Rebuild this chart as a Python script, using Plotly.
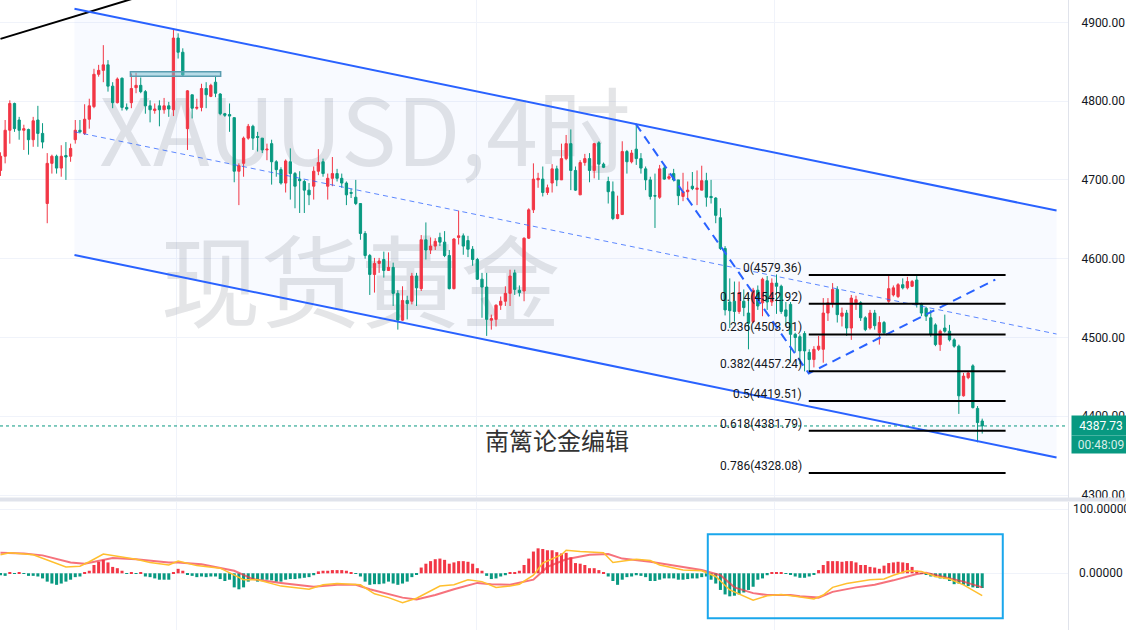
import plotly.graph_objects as go

# ---------------- data ----------------
open_ = [4712,4730,4763,4797,4776,4763,4764,4751,4776,4759,
         4670,4721,4730,4715,4731,4730,4751,4763,4759,4777,
         4793,4834,4839,4846,4819,4798,4829,4792,4798,4817,
         4820,4812,4794,4788,4794,4789,4794,4789,4880,4862,
         4765,4808,4791,4792,4816,4806,4824,4809,4784,4783,
         4779,4711,4721,4753,4768,4755,4753,4738,4746,4723,
         4713,4696,4723,4708,4701,4698,4687,4692,4711,4723,
         4692,4702,4708,4702,4696,4684,4678,4670,4632,4604,
         4580,4594,4599,4585,4589,4556,4522,4547,4546,4578,
         4562,4624,4611,4616,4627,4621,4604,4562,4627,4629,
         4623,4612,4599,4574,4564,4522,4523,4541,4546,4556,
         4582,4560,4559,4626,4662,4700,4701,4684,4696,4714,
         4700,4727,4746,4712,4681,4722,4727,4712,4747,4720,
         4698,4685,4651,4656,4736,4723,4739,4727,4714,4700,
         4680,4678,4715,4702,4708,4700,4679,4685,4692,4688,
         4687,4699,4679,4677,4652,4613,4545,4546,4533,4546,
         4531,4520,4560,4544,4572,4545,4569,4565,4535,4542,
         4504,4501,4505,4481,4472,4485,4485,4531,4544,4561,
         4527,4531,4512,4544,4544,4525,4512,4531,4506,4519,
         4546,4554,4552,4567,4563,4565,4573,4542,4537,4525,
         4516,4491,4512,4508,4497,4489,4426,4449,4464,4410,
         4394]
high = [4735,4776,4801,4798,4780,4770,4765,4780,4794,4772,
        4734,4732,4732,4744,4748,4746,4776,4776,4796,4803,
        4841,4846,4871,4852,4824,4830,4830,4797,4835,4836,
        4830,4814,4801,4797,4801,4804,4799,4891,4886,4867,
        4814,4808,4803,4822,4824,4822,4832,4810,4785,4797,
        4779,4721,4755,4771,4770,4761,4753,4746,4751,4725,
        4716,4726,4740,4710,4711,4700,4696,4717,4739,4727,
        4708,4729,4714,4708,4698,4689,4700,4670,4635,4606,
        4601,4601,4609,4608,4595,4560,4565,4553,4582,4582,
        4630,4646,4627,4626,4633,4635,4611,4626,4661,4632,
        4629,4616,4601,4582,4582,4529,4542,4552,4565,4586,
        4586,4566,4627,4664,4721,4709,4717,4694,4720,4718,
        4746,4757,4764,4717,4725,4733,4734,4747,4749,4722,
        4704,4698,4680,4749,4738,4738,4771,4734,4717,4704,
        4708,4719,4718,4708,4714,4700,4709,4698,4710,4712,
        4718,4709,4700,4678,4664,4616,4575,4571,4571,4561,
        4556,4563,4566,4576,4578,4575,4580,4567,4545,4545,
        4506,4504,4508,4485,4489,4502,4550,4550,4569,4565,
        4538,4535,4554,4553,4546,4527,4535,4535,4527,4521,
        4578,4566,4569,4575,4577,4573,4578,4544,4539,4535,
        4518,4510,4529,4516,4499,4491,4455,4456,4466,4413,
        4397]
low = [4705,4721,4746,4761,4751,4738,4732,4742,4742,4740,
       4645,4708,4708,4704,4700,4723,4746,4759,4757,4765,
       4791,4831,4824,4812,4791,4797,4788,4788,4791,4810,
       4810,4784,4773,4784,4768,4784,4780,4781,4854,4831,
       4738,4778,4789,4787,4791,4805,4805,4782,4780,4761,
       4697,4668,4704,4751,4738,4736,4734,4725,4694,4704,
       4694,4684,4675,4664,4658,4658,4668,4675,4706,4704,
       4675,4692,4698,4690,4668,4677,4668,4624,4600,4554,
       4557,4582,4576,4585,4540,4510,4521,4523,4542,4540,
       4559,4599,4606,4611,4616,4602,4561,4561,4618,4605,
       4602,4591,4573,4525,4502,4510,4514,4535,4540,4540,
       4554,4552,4546,4625,4658,4690,4679,4681,4684,4692,
       4700,4725,4687,4686,4681,4718,4697,4702,4700,4715,
       4670,4649,4650,4656,4708,4721,4719,4708,4687,4675,
       4639,4676,4700,4700,4698,4668,4673,4675,4687,4668,
       4687,4666,4670,4645,4611,4528,4512,4520,4530,4527,
       4485,4518,4535,4527,4535,4540,4530,4530,4515,4468,
       4481,4466,4457,4457,4462,4483,4468,4521,4538,4519,
       4514,4502,4497,4535,4521,4508,4510,4510,4491,4504,
       4544,4552,4550,4561,4561,4564,4538,4527,4521,4501,
       4489,4483,4506,4495,4487,4403,4425,4447,4410,4367,
       4378]
close = [4730,4763,4797,4765,4763,4765,4751,4775,4759,4748,
         4721,4730,4715,4730,4729,4740,4763,4761,4777,4794,
         4834,4839,4846,4819,4798,4828,4792,4790,4816,4820,
         4812,4794,4789,4790,4789,4794,4790,4880,4862,4833,
         4813,4791,4792,4816,4808,4820,4810,4784,4782,4781,
         4711,4718,4753,4768,4753,4754,4738,4739,4723,4713,
         4696,4724,4708,4692,4699,4687,4681,4711,4722,4708,
         4702,4708,4702,4696,4681,4683,4670,4632,4604,4580,
         4594,4597,4585,4589,4556,4522,4547,4543,4578,4563,
         4624,4611,4616,4622,4621,4604,4562,4625,4629,4616,
         4612,4599,4574,4564,4523,4524,4541,4546,4556,4578,
         4561,4557,4626,4662,4701,4702,4684,4690,4714,4700,
         4727,4746,4712,4687,4722,4727,4712,4746,4720,4716,
         4685,4651,4656,4736,4723,4734,4727,4715,4700,4679,
         4679.5,4714,4701,4704,4700,4680,4685,4687,4689,4689.5,
         4699,4678,4677.5,4655,4613,4535,4534,4533,4557,4538,
         4518,4560,4540,4574,4545,4569,4565,4533,4527,4504,
         4500,4483,4483,4472,4485,4489,4531,4544,4561,4529,
         4531,4512,4550,4548,4525,4510,4531,4515,4519,4506,
         4562,4563,4567,4563,4571,4571,4542,4531,4527,4504,
         4491,4508,4508,4497,4489,4426,4451,4455,4411,4392,
         4387.73]
idx = list(range(len(close)))

macd_hist = [-3,-4,1,-1,1,-1,-4,-4,-5,-8,
             -13,-16,-18,-16,-13,-10,-6,-5,1,4,
             13,18,21,17,10,8,4,-1,1,-1,
             1,-5,-6,-8,-10,-10,-10,1,7,4,
             -2,-4,-6,-5,-6,-5,-5,-9,-12,-10,
             -22,-25,-22,-13,-10,-13,-10,-10,-11,-13,
             -13,-10,-9,-9,-8,-7,-6,-3,3,4,
             4,5,5,5,4,1,-1,-5,-13,-18,
             -17,-17,-16,-13,-16,-18,-16,-13,-6,-2,
             9,15,19,22,23,21,15,17,19,19,
             18,15,8,4,-4,-9,-8,-5,-3,1,
             2,4,13,23,34,39,38,36,36,33,
             31,32,25,16,15,13,8,8,5,1,
             -5,-12,-18,-10,-6,-5,-3,-4,-6,-12,
             -12,-10,-8,-8,-8,-10,-10,-9,-8,-8,
             -6,-5,-10,-16,-26,-33,-36,-35,-33,-30,
             -26,-21,-10,-8,-3,1,1,1,-1,-2,
             -5,-7,-7,-5,-2,5,13,19,19,19,
             18,19,19,17,13,13,10,9,7,12,
             16,17,18,17,16,10,4,-1,-2,-5,
             -6,-8,-9,-12,-17,-16,-18,-20,-22,-23,
             -23]

dif_x = [0,2,7,10,14,17,19,22,25,29,32,36,38,42,47,50,52,55,60,66,
         69,72,77,80,83,86,89,94,97,100,103,106,109,111,114,116,120,121,124,129,
         131,136,139,141,146,150,153,156,159,161,164,167,170,174,176,178,181,186,189,191,
         194,197,200,203,206,209,210]
dif_y = [29,32,29,21,10,11,18,30,27,22,17,13,19,12,8,-3,-10,-10,-20,-25,
         -18,-16,-18,-32,-38,-46,-39,-20,-18,-10,-13,-22,-20,-17,-3,16,29,36,34,32,
         17,22,20,13,5,4,-5,-26,-36,-42,-35,-33,-36,-40,-34,-22,-16,-10,-9,-3,
         4,3,-5,-9,-18,-30,-35]
dea_x = [0,5,9,15,18,24,29,36,38,43,50,54,60,67,72,76,79,86,89,93,
         97,102,105,109,114,117,121,126,130,133,139,144,150,154,157,161,164,169,171,175,
         178,183,187,191,196,198,201,206,210]
dea_y = [32,31,28,17,15,24,22,17,17,14,4,-9,-15,-21,-18,-18,-25,-38,-41,-34,
         -25,-15,-17,-18,-10,10,22,29,30,23,18,12,5,-3,-22,-31,-34,-34,-36,-38,
         -29,-22,-18,-11,-1,1,-4,-13,-22]

fib_ratios = ["0", "0.114", "0.236", "0.382", "0.5", "0.618", "0.786"]
fib_prices = [4579.36, 4542.92, 4503.91, 4457.24, 4419.51, 4381.79, 4328.08]
fib_x = [172.9, 215.0]

channel_x = [15.83, 225.9]
channel_upper = [4917.3, 4661.1]
channel_lower = [4604.7, 4347.7]

zigzag_x = [135.9, 172.9, 212.8]
zigzag_y = [4770.9, 4454.4, 4573.4]

trend_x = [0, 35]
trend_y = [4879, 4942]

zone_x = [27.8, 47.1]
zone_y = [4831.6, 4837.1]

macd_box_x = [151.3, 214.4]
macd_box_y = [-70.3, 60.9]

last_price = 4387.73
countdown = "00:48:09"
price_ticks = [4300, 4400, 4500, 4600, 4700, 4800, 4900]
macd_ticks = [0, 100]
time_grid = [37.65, 101.75, 165.6]

watermark_1 = "XAUUSD,4时"
watermark_2 = "现货黄金"
author_text = "南篱论金编辑"

# ---------------- styling ----------------
UP = "#F23645"
DN = "#089981"
BLUE = "#2962FF"
GRID = "#F0F3FA"
W, H = 1126, 630
PLOT_R = 1068          # right edge of the panes (px)
main_top, main_bot = 0, 498
macd_top = 502
x_range = [-0.1, 228.35]
y_range = [4296.3, 4928.3]
y2_range = [-88.6, 111.4]

fig = go.Figure()

fig.add_trace(go.Candlestick(
    x=idx, open=open_, high=high, low=low, close=close,
    increasing=dict(line=dict(color=UP, width=1), fillcolor=UP),
    decreasing=dict(line=dict(color=DN, width=1), fillcolor=DN),
    whiskerwidth=0, hoverinfo="skip", showlegend=False,
    xaxis="x", yaxis="y"))

# black trend line (top left)
fig.add_trace(go.Scatter(x=trend_x, y=trend_y, mode="lines",
                         line=dict(color="#000000", width=2),
                         hoverinfo="skip", showlegend=False))
# channel lines
fig.add_trace(go.Scatter(x=channel_x, y=channel_upper, mode="lines",
                         line=dict(color=BLUE, width=2), hoverinfo="skip", showlegend=False))
fig.add_trace(go.Scatter(x=channel_x, y=channel_lower, mode="lines",
                         line=dict(color=BLUE, width=2), hoverinfo="skip", showlegend=False))
mid = [(a + b) / 2 for a, b in zip(channel_upper, channel_lower)]
fig.add_trace(go.Scatter(x=channel_x, y=mid, mode="lines",
                         line=dict(color="rgba(41,98,255,0.75)", width=1, dash="5px,4px"),
                         hoverinfo="skip", showlegend=False))
# zigzag dashed
fig.add_trace(go.Scatter(x=zigzag_x, y=zigzag_y, mode="lines",
                         line=dict(color=BLUE, width=2, dash="9px,6px"),
                         hoverinfo="skip", showlegend=False))
# fib levels
for p in fib_prices:
    fig.add_trace(go.Scatter(x=fib_x, y=[p, p], mode="lines",
                             line=dict(color="#000000", width=2),
                             hoverinfo="skip", showlegend=False))
# last price dotted
fig.add_trace(go.Scatter(x=[x_range[0], x_range[1]], y=[last_price, last_price], mode="lines",
                         line=dict(color=DN, width=1, dash="dot"),
                         hoverinfo="skip", showlegend=False))

# MACD pane
fig.add_trace(go.Bar(x=idx, y=macd_hist, width=0.65,
                     marker=dict(color=[UP if v >= 0 else DN for v in macd_hist], line=dict(width=0)),
                     hoverinfo="skip", showlegend=False, xaxis="x2", yaxis="y2"))
fig.add_trace(go.Scatter(x=dea_x, y=dea_y, mode="lines",
                         line=dict(color="rgba(242,54,69,0.7)", width=2),
                         hoverinfo="skip", showlegend=False, xaxis="x2", yaxis="y2"))
fig.add_trace(go.Scatter(x=dif_x, y=dif_y, mode="lines",
                         line=dict(color="#FFBF2E", width=1.5),
                         hoverinfo="skip", showlegend=False, xaxis="x2", yaxis="y2"))

shapes = []
# channel background fill
path = "M {},{} L {},{} L {},{} L {},{} Z".format(
    channel_x[0], channel_upper[0], channel_x[1], channel_upper[1],
    channel_x[1], channel_lower[1], channel_x[0], channel_lower[0])
shapes.append(dict(type="path", path=path, xref="x", yref="y", layer="between",
                   fillcolor="rgba(41,98,255,0.03)", line=dict(width=0)))
# watermark (drawn below candles)
shapes.append(dict(type="rect", xref="x", yref="y", x0=20, x1=136, y0=4685, y1=4815,
                   layer="between", line=dict(width=0), fillcolor="rgba(0,0,0,0)",
                   label=dict(text=watermark_1, textposition="middle center",
                              font=dict(size=93, color="rgba(121,125,134,0.2)",
                                        family="Noto Sans CJK SC"))))
shapes.append(dict(type="rect", xref="x", yref="y", x0=19, x1=135, y0=4492, y1=4622,
                   layer="between", line=dict(width=0), fillcolor="rgba(0,0,0,0)",
                   label=dict(text=watermark_2, textposition="middle center",
                              font=dict(size=100, color="rgba(121,125,134,0.2)",
                                        family="Noto Sans CJK SC"))))
# teal zone
shapes.append(dict(type="rect", xref="x", yref="y", x0=zone_x[0], x1=zone_x[1],
                   y0=zone_y[0], y1=zone_y[1], layer="above",
                   line=dict(color="#5A9DB0", width=1.5), fillcolor="rgba(120,190,210,0.5)"))
# MACD highlight box
shapes.append(dict(type="rect", xref="x2", yref="y2", x0=macd_box_x[0], x1=macd_box_x[1],
                   y0=macd_box_y[0], y1=macd_box_y[1], layer="above",
                   line=dict(color="#1AA7EC", width=2), fillcolor="rgba(0,0,0,0)"))
# pane separator
shapes.append(dict(type="rect", xref="paper", yref="paper", x0=0, x1=W / PLOT_R,
                   y0=1 - 501.5 / H, y1=1 - 497.5 / H, layer="above",
                   line=dict(width=0), fillcolor="#E0E3EB"))

annotations = []
for r, p in zip(fib_ratios, fib_prices):
    annotations.append(dict(x=fib_x[0], y=p, xref="x", yref="y", text="{}({:.2f})".format(r, p),
                            showarrow=False, xanchor="right", yanchor="middle",
                            xshift=-5, yshift=7,
                            font=dict(family="Roboto", size=12, color="#131722")))
annotations.append(dict(x=119, y=4371, xref="x", yref="y", text=author_text, showarrow=False,
                        xanchor="center", yanchor="middle",
                        font=dict(family="Noto Sans CJK SC", size=24, color="#333333")))
axis_label_x = 1101 / PLOT_R
annotations.append(dict(x=axis_label_x, y=last_price, xref="paper", yref="y",
                        text="{:.2f}".format(last_price), showarrow=False,
                        xanchor="center", yanchor="middle", bgcolor=DN, width=56, height=17,
                        font=dict(family="Roboto", size=12, color="#FFFFFF")))
annotations.append(dict(x=axis_label_x, y=4364.6, xref="paper", yref="y",
                        text=countdown, showarrow=False,
                        xanchor="center", yanchor="middle", bgcolor=DN, width=56, height=15,
                        font=dict(family="Roboto", size=12, color="rgba(255,255,255,0.85)")))
for v in macd_ticks:
    annotations.append(dict(x=axis_label_x, y=v, xref="paper", yref="y2",
                            text="{:.5f}".format(v), showarrow=False,
                            xanchor="center", yanchor="middle",
                            font=dict(family="Roboto", size=12, color="#131722")))

fig.update_layout(
    width=W, height=H,
    margin=dict(l=0, r=W - PLOT_R, t=0, b=0, autoexpand=False),
    paper_bgcolor="#FFFFFF", plot_bgcolor="#FFFFFF",
    showlegend=False, boxgap=0.3,
    xaxis=dict(domain=[0, 1], range=x_range, anchor="y", showticklabels=False,
               tickvals=time_grid, showgrid=True, gridcolor=GRID, zeroline=False,
               rangeslider=dict(visible=False), showline=False, ticks="", automargin=False),
    xaxis2=dict(domain=[0, 1], range=x_range, anchor="y2", showticklabels=False,
                tickvals=time_grid, showgrid=True, gridcolor=GRID, zeroline=False,
                matches="x", showline=False, ticks="", automargin=False),
    yaxis=dict(domain=[1 - main_bot / H, 1], range=y_range, side="right",
               tickvals=price_ticks, ticktext=["{:.2f}".format(t) for t in price_ticks],
               showgrid=True, gridcolor=GRID, zeroline=False,
               showline=True, linecolor="#E0E3EB", ticks="outside", ticklen=10,
               tickcolor="rgba(0,0,0,0)", automargin=False,
               tickfont=dict(family="Roboto", size=12, color="#131722")),
    yaxis2=dict(domain=[0, 1 - macd_top / H], range=y2_range, side="right",
                tickvals=macd_ticks, showticklabels=False,
                showgrid=True, gridcolor=GRID, zeroline=False, automargin=False,
                showline=True, linecolor="#E0E3EB", ticks=""),
    shapes=shapes, annotations=annotations,
)

fig.write_html("out.html", config={"displayModeBar": False},
               post_script="document.body.style.margin='0';document.body.style.padding='0';")
